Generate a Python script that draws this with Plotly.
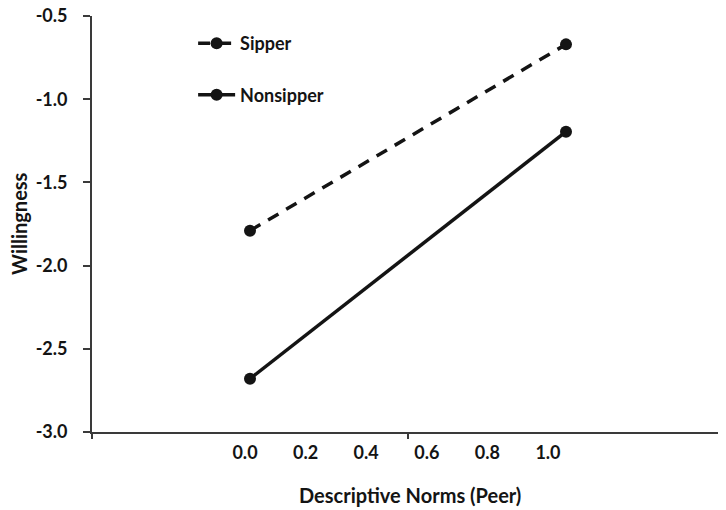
import plotly.graph_objects as go

# values (x: two category positions, 0 and 1)
norms = [0.0, 1.0]
sipper = [-1.79, -0.67]
nonsipper = [-2.68, -1.195]

x_ticks = [0.0, 0.2, 0.4, 0.6, 0.8, 1.0]
x_ticktext = ['0.0', '0.2', '0.4', '0.6', '0.8', '1.0']
y_ticks = [-3.0, -2.5, -2.0, -1.5, -1.0, -0.5]
y_ticktext = ['-3.0', '-2.5', '-2.0', '-1.5', '-1.0', '-0.5']

font_family = 'Lato, Open Sans, sans-serif'
ink = '#141414'
axis_col = '#3a3a3a'

fig = go.Figure()

fig.add_trace(go.Scatter(
    x=norms, y=sipper,
    mode='lines+markers',
    name='Sipper',
    legendgroup='a',
    line=dict(color=ink, width=3.5, dash='12px,9px'),
    marker=dict(color=ink, size=12),
))
fig.add_trace(go.Scatter(
    x=norms, y=nonsipper,
    mode='lines+markers',
    name='Nonsipper',
    legendgroup='b',
    line=dict(color=ink, width=3.5),
    marker=dict(color=ink, size=12),
))
# empty trace so the label axis gets drawn
fig.add_trace(go.Scatter(x=[], y=[], xaxis='x2', showlegend=False))

# page body has an 8px margin, so the figure is sized 718x502 and shifted
fig.update_layout(
    width=718, height=502,
    template='simple_white',
    plot_bgcolor='white',
    paper_bgcolor='white',
    margin=dict(l=84, r=2, t=8, b=78),
    font=dict(family=font_family, color=ink, size=18),
    legend=dict(
        x=0.16, y=0.978, xanchor='left', yanchor='top',
        font=dict(size=18, family=font_family, weight='bold', color=ink),
        tracegroupgap=25,
        itemwidth=37,
        bgcolor='rgba(0,0,0,0)',
    ),
    # main axis: Excel-style category axis, ticks between/at the ends
    xaxis=dict(
        range=[-0.5, 1.5],
        tickvals=[-0.5, 0.5, 1.5], showticklabels=False,
        ticks='outside', ticklen=5, tickcolor=axis_col, tickwidth=1.5,
        showline=True, linecolor=axis_col, linewidth=1.8,
        zeroline=False, showgrid=False, automargin=False,
    ),
    # label axis carrying the 0.0 ... 1.0 tick labels
    xaxis2=dict(
        overlaying='x', side='bottom', anchor='y',
        range=[-0.505, 1.581],
        tickvals=x_ticks, ticktext=x_ticktext,
        ticks='', showline=False, showgrid=False, zeroline=False,
        ticklabelstandoff=8, automargin=False,
        tickfont=dict(size=18, family=font_family, weight='bold', color=ink),
    ),
    yaxis=dict(
        range=[-3.0, -0.4995],
        tickvals=y_ticks, ticktext=y_ticktext,
        ticks='outside', ticklen=7, tickcolor=axis_col, tickwidth=1.5,
        showline=True, linecolor=axis_col, linewidth=1.8,
        ticklabelstandoff=12, automargin=False, ticklabeloverflow='allow',
        tickfont=dict(size=18, family=font_family, weight='bold', color=ink),
        zeroline=False, showgrid=False,
    ),
    annotations=[
        dict(text='<b>Descriptive Norms (Peer)</b>', xref='paper', yref='paper',
             x=0.503, y=-0.152, xanchor='center', yanchor='middle',
             showarrow=False, font=dict(size=20, family=font_family, color=ink)),
        dict(text='<b>Willingness</b>', xref='paper', yref='paper',
             x=-0.1155, y=0.5, xanchor='center', yanchor='middle', textangle=-90,
             showarrow=False, font=dict(size=20, family=font_family, color=ink)),
    ],
)

fig.write_html("out.html")
